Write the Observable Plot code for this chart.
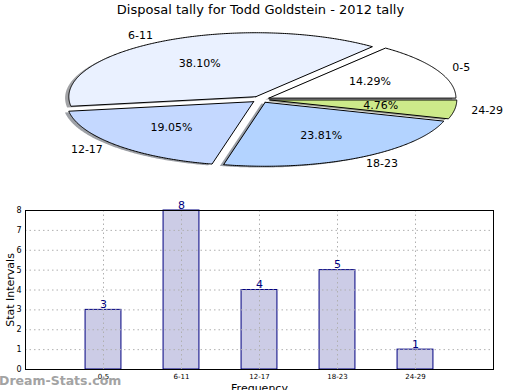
<!DOCTYPE html>
<html>
<head>
<meta charset="utf-8">
<script src="https://cdn.jsdelivr.net/npm/d3@7"></script>
<script src="https://cdn.jsdelivr.net/npm/@observablehq/plot@0.6"></script>
<style>
  html, body { margin: 0; padding: 0; background: #fff; }
  #wrap { position: relative; width: 520px; height: 390px; overflow: hidden; font-family: "DejaVu Sans", sans-serif; }
  #wrap svg { display: block; }
  #mark { position: absolute; left: -1px; top: 373px; font: bold 12.5px "DejaVu Sans", sans-serif; color: #a3a3a3; white-space: nowrap; }
</style>
</head>
<body>
<div id="wrap"></div>
<script>
const title = "Disposal tally for Todd Goldstein - 2012 tally";
const categories = ["0-5", "6-11", "12-17", "18-23", "24-29"];
const counts = [3, 8, 4, 5, 1];
const sliceColors = ["#ffffff", "#eaf1ff", "#c4d8ff", "#b3d3ff", "#cdea8a"];
const yTicks = [0, 1, 2, 3, 4, 5, 6, 7, 8];
const yLabel = "Stat Intervals";
const xLabel = "Frequency";
const watermark = "Dream-Stats.com";

const font = "DejaVu Sans";
const wrap = document.getElementById("wrap");

// ---------- Pie ----------
const total = d3.sum(counts);
const explode = 0.05;
let cum = 0;
const wedges = counts.map((c, i) => {
  const a1 = cum / total * 2 * Math.PI;
  cum += c;
  const a2 = cum / total * 2 * Math.PI;
  return {i, a1, a2, mid: (a1 + a2) / 2, pct: (c / total * 100).toFixed(2) + "%"};
});
function wedgePts(w, dx = 0, dy = 0) {
  const cx = explode * Math.cos(w.mid) + dx, cy = explode * Math.sin(w.mid) + dy;
  const pts = [[cx, cy]];
  const n = Math.max(4, Math.ceil((w.a2 - w.a1) / 0.01));
  for (let k = 0; k <= n; k++) {
    const a = w.a1 + (w.a2 - w.a1) * k / n;
    pts.push([cx + Math.cos(a), cy + Math.sin(a)]);
  }
  pts.push([cx, cy]);
  return pts;
}
function shade(c) { const r = d3.rgb(c); return d3.rgb(r.r * 0.3, r.g * 0.3, r.b * 0.3).formatHex(); }

const pieMarks = [];
wedges.forEach(w => {
  pieMarks.push(Plot.line(wedgePts(w, -0.02, -0.02), {x: d => d[0], y: d => d[1], fill: shade(sliceColors[w.i]), fillOpacity: 0.5, stroke: "none"}));
});
wedges.forEach(w => {
  pieMarks.push(Plot.line(wedgePts(w), {x: d => d[0], y: d => d[1], fill: sliceColors[w.i], stroke: "#000", strokeWidth: 1}));
});
const pctRows = wedges.map(w => ({x: (explode + 0.6) * Math.cos(w.mid), y: (explode + 0.6) * Math.sin(w.mid), t: w.pct}));
const labRows = wedges.map(w => ({x: (explode + 1.1) * Math.cos(w.mid), y: (explode + 1.1) * Math.sin(w.mid), t: categories[w.i]}));
pieMarks.push(Plot.text(pctRows, {x: "x", y: "y", text: "t", fontSize: 11, fill: "#000", textAnchor: "middle"}));
pieMarks.push(Plot.text(labRows.filter(d => d.x >= 0), {x: "x", y: "y", text: "t", fontSize: 11, fill: "#000", textAnchor: "start", dx: -2}));
pieMarks.push(Plot.text(labRows.filter(d => d.x < 0), {x: "x", y: "y", text: "t", fontSize: 11, fill: "#000", textAnchor: "end"}));
pieMarks.push(Plot.text([title], {frameAnchor: "top", lineAnchor: "middle", dy: 9, fontSize: 13, fill: "#000"}));

const cx0 = 260, rx = 187, cy0 = 99, ry = 64;
const pie = Plot.plot({
  width: 520, height: 190,
  margin: 0,
  style: {fontFamily: font, background: "transparent", overflow: "visible"},
  x: {domain: [-cx0 / rx, (520 - cx0) / rx], range: [0, 520], axis: null},
  y: {domain: [-(190 - cy0) / ry, cy0 / ry], range: [190, 0], axis: null},
  marks: pieMarks
});
wrap.appendChild(pie);

// ---------- Bars ----------
const barRows = categories.map((c, i) => ({i, c, v: counts[i]}));
const half = 0.23;
const bars = Plot.plot({
  width: 520, height: 200,
  marginTop: 20, marginBottom: 21, marginLeft: 25, marginRight: 27,
  style: {fontFamily: font, background: "transparent", overflow: "visible"},
  x: {type: "linear", domain: [-1, 5], axis: null},
  y: {domain: [0, 8], axis: null},
  marks: [
    Plot.rectY(barRows, {x1: d => d.i - half, x2: d => d.i + half, y1: 0, y2: "v", fill: "#ccccE6", stroke: "#000080", strokeWidth: 1}),
    Plot.gridX(d3.range(categories.length), {stroke: "#b0b0b0", strokeOpacity: 1, strokeDasharray: "1.5,3"}),
    Plot.gridY(yTicks.slice(1, -1), {stroke: "#b0b0b0", strokeOpacity: 1, strokeDasharray: "1.5,3"}),
    Plot.frame({stroke: "#000", strokeWidth: 1}),
    Plot.axisX(d3.range(categories.length), {tickFormat: i => categories[i], tickSize: 0, tickPadding: 5, fontSize: 7, fill: "#000", label: null}),
    Plot.axisY(yTicks, {tickSize: 0, tickPadding: 4, fontSize: 8, fill: "#000", label: null}),
    Plot.text(barRows, {x: "i", y: "v", text: d => String(d.v), lineAnchor: "bottom", dy: -2, fontSize: 11, fill: "#000080"}),
    Plot.text([yLabel], {x: () => -1, y: () => 4, text: d => d, rotate: -90, textAnchor: "middle", lineAnchor: "middle", dx: -15, fontSize: 11, fill: "#000"}),
    Plot.text([xLabel], {frameAnchor: "bottom", lineAnchor: "top", dy: 15, fontSize: 11, fill: "#000"})
  ]
});
wrap.appendChild(bars);

const wm = document.createElement("div");
wm.id = "mark";
wm.textContent = watermark;
wrap.appendChild(wm);
</script>
</body>
</html>
